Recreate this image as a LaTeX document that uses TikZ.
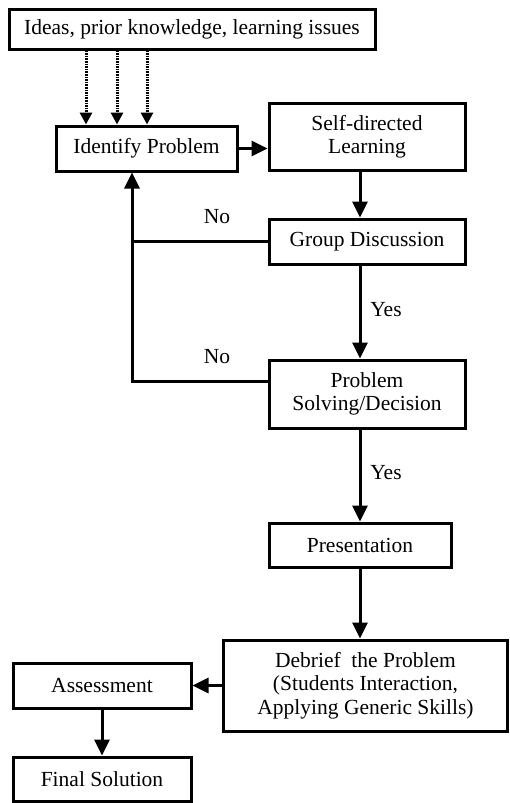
\documentclass[tikz,border=0pt]{standalone}
\usepackage{fontspec}
\setmainfont{Liberation Serif}
\usetikzlibrary{arrows.meta}
\begin{document}
\begin{tikzpicture}[x=1pt,y=1pt,
  box/.style={draw,line width=3pt,align=center,inner sep=0pt,
    font=\fontsize{21.5}{23.5}\selectfont},
  arr/.style={line width=3pt,-{Triangle[length=16pt,width=15pt]}},
  dotarr/.style={line width=3pt,dash pattern=on 1.6pt off 1pt,
    -{Triangle[length=12pt,width=12pt]}},
  lbl/.style={font=\fontsize{21.5}{23.5}\selectfont}]
\useasboundingbox (0,0) rectangle (509,-803);
\node[box,minimum width=366pt,minimum height=40pt] (top) at (192,-29) {Ideas, prior knowledge, learning issues};
\node[box,minimum width=181pt,minimum height=45pt] (idp) at (146.5,-148.5) {Identify Problem};
\node[box,minimum width=196pt,minimum height=67pt] (sdl) at (367,-136.5) {Self-directed\\Learning};
\node[box,minimum width=196pt,minimum height=45pt] (gd) at (367,-241.5) {Group Discussion};
\node[box,minimum width=196pt,minimum height=68pt] (ps) at (367,-394) {Problem\\Solving/Decision};
\node[box,minimum width=182pt,minimum height=44pt] (pres) at (360,-545) {Presentation};
\node[box,minimum width=284pt,minimum height=91pt] (deb) at (365.5,-685.5) {Debrief\ \ the Problem\\(Students Interaction,\\Applying Generic Skills)};
\node[box,minimum width=178pt,minimum height=45pt] (ass) at (102,-685.5) {Assessment};
\node[box,minimum width=178pt,minimum height=44pt] (fin) at (102,-779) {Final Solution};
\node[lbl] (no1) at (217,-217) {No};
\node[lbl] (no2) at (217,-357) {No};
\node[lbl] (yes1) at (386,-310) {Yes};
\node[lbl] (yes2) at (386,-473) {Yes};
\coordinate (lx) at (132,0);
\coordinate (psl) at (268,-381);
\foreach \xx in {86,117,147}
  \draw[dotarr] (top.south -| \xx,0) -- (idp.north -| \xx,0);
\draw[arr] (idp.east) -- (idp.east -| sdl.west);
\draw[arr] (sdl.south -| pres.north) -- (gd.north -| pres.north);
\draw[arr] (gd.south -| pres.north) -- (ps.north -| pres.north);
\draw[arr] (ps.south -| pres.north) -- (pres.north);
\draw[arr] (pres.south) -- (deb.north -| pres.south);
\draw[arr] (deb.west) -- (ass.east);
\draw[arr] (ass.south) -- (fin.north);
\draw[arr] (gd.west) -| (lx |- idp.south);
\draw[line width=3pt] (psl) -- (psl -| lx) -- (lx |- gd.west);
\end{tikzpicture}
\end{document}
